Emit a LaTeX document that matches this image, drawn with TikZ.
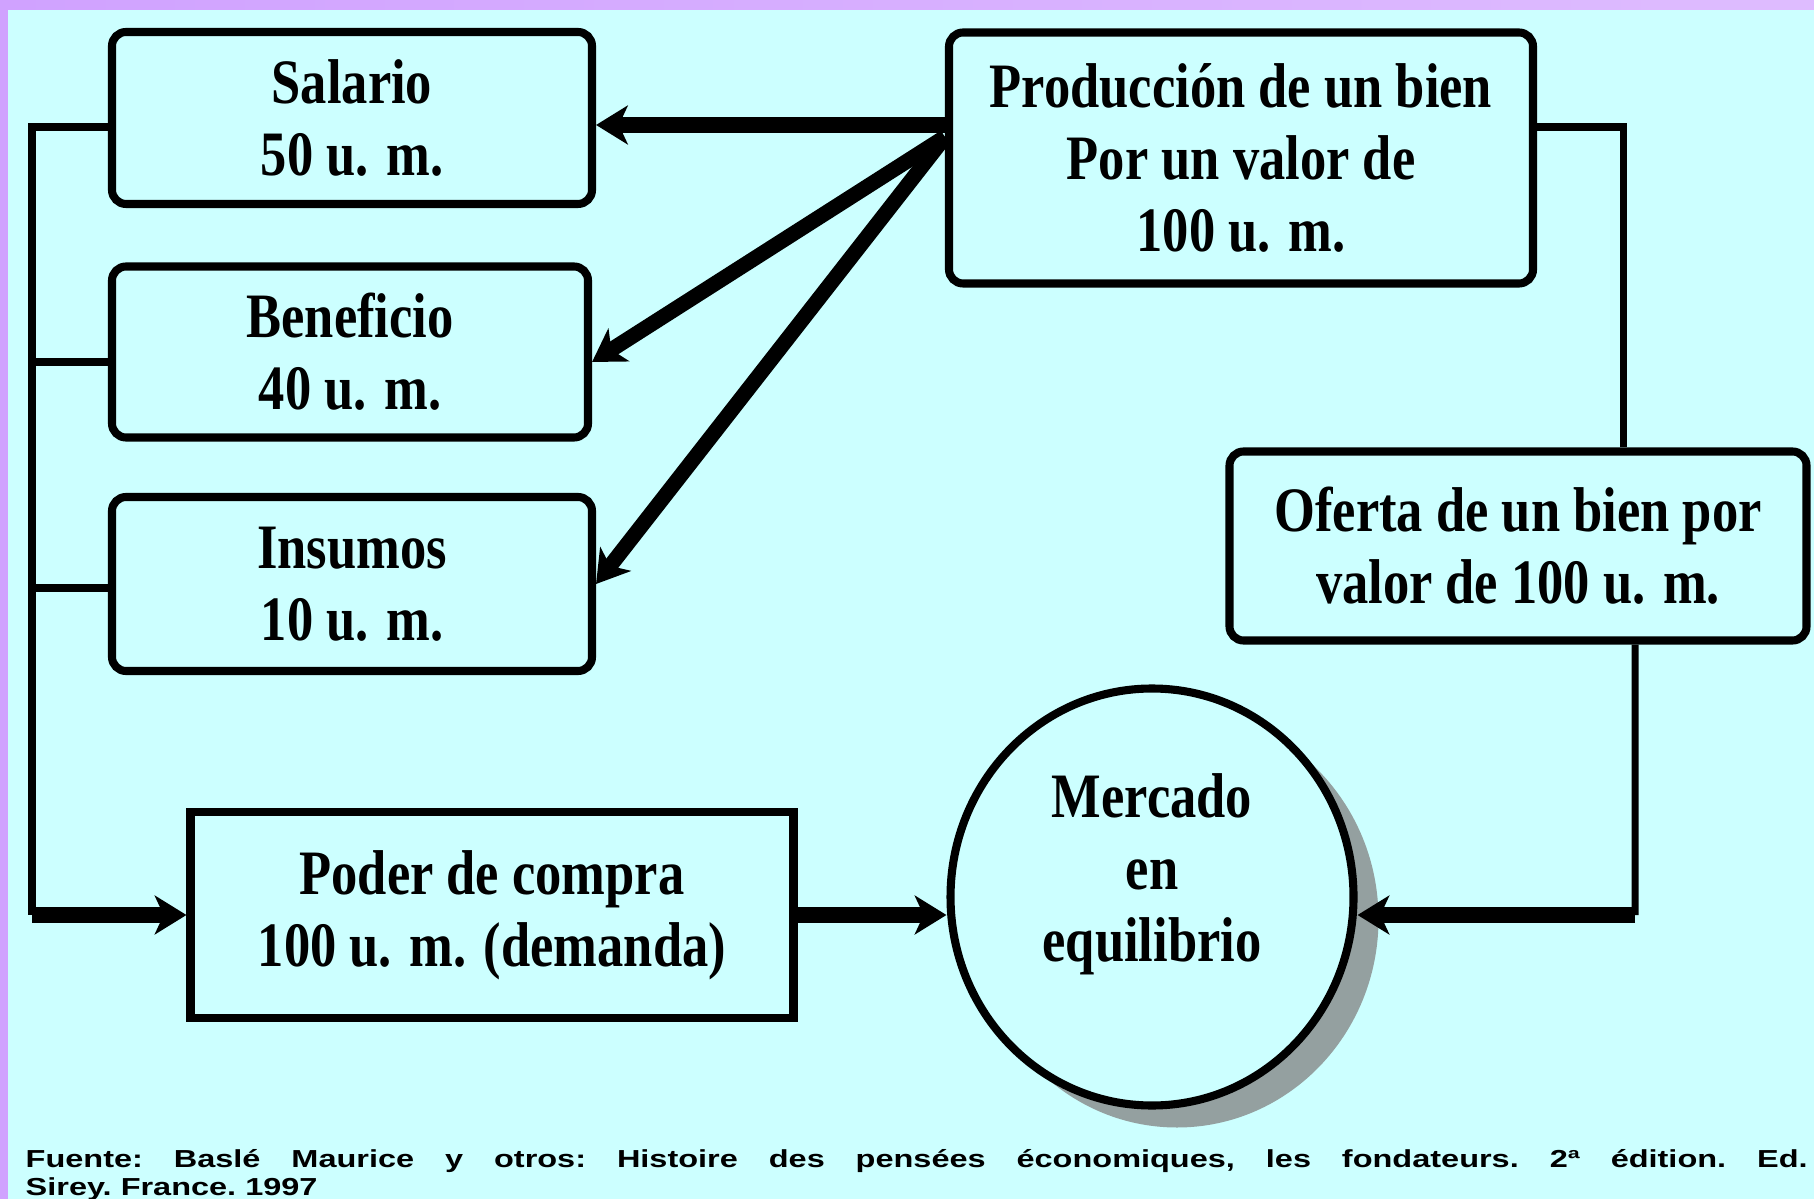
\documentclass[tikz,border=0pt]{standalone}
\usepackage{fontspec}
\usepackage{tikz}
\usetikzlibrary{positioning,shapes,shadows,arrows.meta,calc}
\newfontfamily\boxfont{Liberation Serif Bold}[FakeStretch=0.83]
\newfontfamily\srcfont{Liberation Sans Bold}[FakeStretch=1.32]
\definecolor{bgcyan}{RGB}{204,255,255}
\definecolor{lavleft}{RGB}{208,162,255}
\definecolor{lavright}{RGB}{222,188,255}
\definecolor{shadowgray}{RGB}{148,160,160}
\tikzset{
  valbox/.style={draw=black, line width=2.3pt, rounded corners=4pt, fill=bgcyan,
    inner sep=0pt, align=center, font=\boxfont\fontsize{18}{20.5}\selectfont},
  flatbox/.style={valbox, rounded corners=0pt},
  market/.style={ellipse, draw=black, line width=2.3pt, fill=bgcyan, inner sep=0pt,
    minimum width=4.03cm, minimum height=4.17cm,
    drop shadow={shadow xshift=0.25cm, shadow yshift=-0.22cm, fill=shadowgray, opacity=1}},
  marketlabel/.style={align=center, inner sep=0pt, font=\boxfont\fontsize{18}{20.5}\selectfont},
  thinline/.style={line width=2pt},
  thickline/.style={line width=4.3pt, -{Stealth[length=9pt,width=11pt,inset=2.5pt]}},
  srctext/.style={inner sep=0pt, font=\srcfont\fontsize{7}{8}\selectfont\frenchspacing}
}
\begin{document}
\begin{tikzpicture}
\useasboundingbox (0,0) rectangle (18.14,-11.99);
\fill[bgcyan] (0,0) rectangle (18.14,-11.99);
\shade[left color=lavleft, right color=lavright] (0,0) rectangle (18.14,-0.10);
\fill[lavleft] (0,0) rectangle (0.08,-11.99);

\node[valbox, minimum width=4.80cm, minimum height=1.72cm] (sal) at (3.52,-1.18) {Salario\\50 u. m.};
\node[valbox, minimum width=4.76cm, minimum height=1.71cm] (ben) at (3.50,-3.52) {Beneficio\\40 u. m.};
\node[valbox, minimum width=4.80cm, minimum height=1.74cm] (ins) at (3.52,-5.84) {Insumos\\10 u. m.};
\node[valbox, minimum width=5.84cm, minimum height=2.51cm] (prod) at (12.41,-1.58) {Producción de un bien\\Por un valor de\\100 u. m.};
\node[valbox, minimum width=5.77cm, minimum height=1.89cm] (ofe) at (15.18,-5.46) {Oferta de un bien por\\valor de 100 u. m.};
\node[flatbox, minimum width=6.03cm, minimum height=2.06cm] (poder) at (4.92,-9.15) {Poder de compra\\100 u. m. (demanda)};
\node[market] (merc) at (11.52,-8.97) {};
\node[marketlabel] (mtxt) at ([yshift=0.23cm]merc.center) {Mercado\\en\\equilibrio};

\coordinate (lft) at (0.32,-9.15);
\coordinate (rgt) at (16.35,-9.15);
\coordinate (fan) at ([yshift=0.21cm]prod.west);

\draw[thinline] ([yshift=-0.09cm]sal.west) -| (lft);
\draw[thinline] ([yshift=-0.1cm]ben.west) -- ([yshift=-0.1cm]ben.west -| lft);
\draw[thinline] ([yshift=-0.04cm]ins.west) -- ([yshift=-0.04cm]ins.west -| lft);
\draw[thickline] (lft) -- (poder.west);

\draw[thickline] ([yshift=-0.07cm]sal.east -| prod.west) -- ([yshift=-0.07cm]sal.east);
\draw[thickline] (fan) -- ([yshift=-0.1cm]ben.east);
\draw[thickline] (fan) -- (ins.east);

\draw[thinline] ([yshift=0.31cm]prod.east) -| ([xshift=1.05cm]ofe.north);
\draw[thinline] ([xshift=1.17cm]ofe.south) -- (rgt);
\draw[thickline] (rgt) -- (merc.east |- rgt);
\draw[thickline] (poder.east) -- (poder.east -| merc.west);

\node[srctext, anchor=base west] (src1) at (0.25,-11.67) {\makebox[17.82cm][s]{Fuente: Baslé Maurice y otros: Histoire des pensées économiques, les fondateurs. 2ª édition. Ed.}};
\node[srctext, anchor=base west] (src2) at (0.25,-11.95) {Sirey. France. 1997};
\end{tikzpicture}
\end{document}
